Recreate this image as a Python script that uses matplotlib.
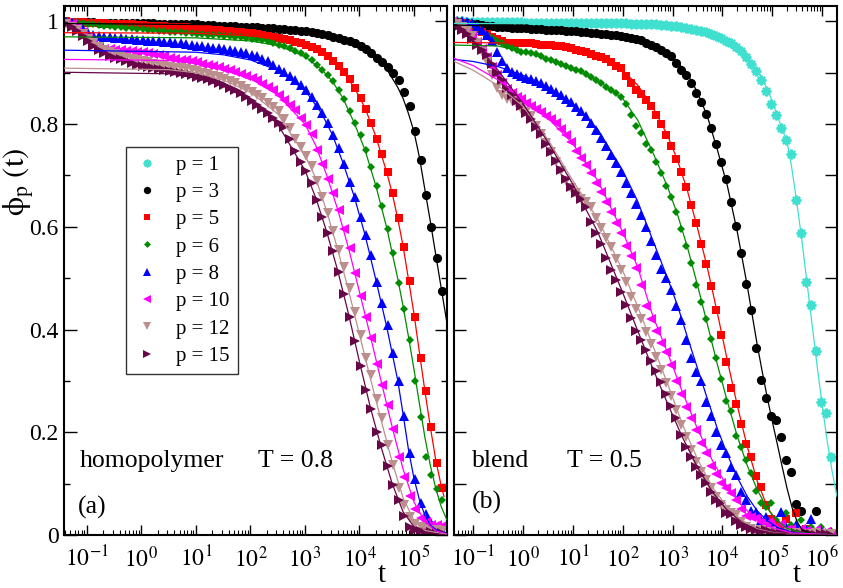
import numpy as np
import matplotlib
matplotlib.use("Agg")
import matplotlib.pyplot as plt
from matplotlib.lines import Line2D
from matplotlib.ticker import FixedLocator, LogLocator, NullFormatter, MultipleLocator

plt.rcParams["font.family"] = ["Liberation Serif", "DejaVu Serif"]
plt.rcParams["mathtext.fontset"] = "stix"

# tempos de amostragem: 10 pontos por decada
t_homo = 10 ** (np.arange(-14, 56) / 10 + 0.02)
t_blend = 10 ** (np.arange(-14, 63) / 10 - 0.03)

# ---------------- homopolimero, T = 0.8 ----------------
homo_p3 = [1.000, 0.999, 0.999, 0.998, 0.998, 0.998, 0.997, 0.997, 0.997, 0.997,
           0.997, 0.997, 0.996, 0.996, 0.996, 0.996, 0.996, 0.995, 0.995, 0.995,
           0.995, 0.995, 0.994, 0.994, 0.994, 0.993, 0.993, 0.993, 0.992, 0.992,
           0.991, 0.991, 0.990, 0.990, 0.989, 0.989, 0.988, 0.988, 0.987, 0.986,
           0.985, 0.984, 0.983, 0.982, 0.981, 0.979, 0.977, 0.975, 0.973, 0.970,
           0.967, 0.964, 0.961, 0.957, 0.953, 0.946, 0.938, 0.929, 0.921, 0.912,
           0.900, 0.885, 0.862, 0.835, 0.787, 0.730, 0.662, 0.600, 0.540, 0.476]
homo_p5 = [1.000, 0.999, 0.998, 0.998, 0.997, 0.997, 0.996, 0.996, 0.995, 0.995,
           0.995, 0.994, 0.994, 0.993, 0.993, 0.992, 0.992, 0.991, 0.991, 0.990,
           0.990, 0.989, 0.989, 0.988, 0.987, 0.986, 0.985, 0.984, 0.983, 0.982,
           0.981, 0.980, 0.979, 0.978, 0.977, 0.976, 0.974, 0.972, 0.970, 0.968,
           0.966, 0.963, 0.960, 0.957, 0.954, 0.950, 0.946, 0.940, 0.932, 0.923,
           0.913, 0.901, 0.887, 0.870, 0.850, 0.830, 0.803, 0.771, 0.741, 0.706,
           0.665, 0.617, 0.560, 0.495, 0.425, 0.345, 0.280, 0.210, 0.140, 0.092]
homo_p6 = [1.000, 0.999, 0.998, 0.997, 0.995, 0.994, 0.993, 0.992, 0.991, 0.990,
           0.989, 0.988, 0.987, 0.986, 0.985, 0.984, 0.983, 0.982, 0.981, 0.980,
           0.979, 0.979, 0.978, 0.977, 0.976, 0.975, 0.974, 0.974, 0.973, 0.972,
           0.971, 0.970, 0.969, 0.968, 0.966, 0.965, 0.963, 0.961, 0.958, 0.955,
           0.952, 0.948, 0.943, 0.938, 0.932, 0.925, 0.916, 0.906, 0.896, 0.883,
           0.866, 0.849, 0.826, 0.802, 0.778, 0.749, 0.717, 0.679, 0.640, 0.596,
           0.550, 0.490, 0.440, 0.380, 0.300, 0.230, 0.152, 0.117, 0.090, 0.068]
homo_p8 = [0.999, 0.997, 0.992, 0.985, 0.978, 0.974, 0.971, 0.970, 0.969, 0.968,
           0.967, 0.966, 0.965, 0.964, 0.963, 0.962, 0.962, 0.961, 0.960, 0.959,
           0.958, 0.957, 0.956, 0.955, 0.953, 0.952, 0.951, 0.949, 0.948, 0.946,
           0.944, 0.942, 0.940, 0.938, 0.935, 0.932, 0.927, 0.922, 0.915, 0.908,
           0.902, 0.894, 0.886, 0.877, 0.867, 0.853, 0.838, 0.822, 0.803, 0.779,
           0.753, 0.722, 0.688, 0.658, 0.620, 0.585, 0.545, 0.492, 0.452, 0.408,
           0.355, 0.300, 0.232, 0.160, 0.110, 0.062, 0.040, 0.023, 0.012, 0.010]
homo_p10 = [0.997, 0.995, 0.990, 0.980, 0.968, 0.958, 0.950, 0.947, 0.946, 0.945,
            0.944, 0.943, 0.942, 0.941, 0.940, 0.938, 0.936, 0.934, 0.932, 0.929,
            0.927, 0.925, 0.924, 0.922, 0.920, 0.918, 0.916, 0.913, 0.911, 0.908,
            0.905, 0.902, 0.898, 0.894, 0.890, 0.885, 0.879, 0.872, 0.866, 0.857,
            0.847, 0.838, 0.827, 0.812, 0.798, 0.780, 0.750, 0.722, 0.694, 0.666,
            0.632, 0.596, 0.558, 0.510, 0.465, 0.424, 0.384, 0.332, 0.292, 0.254,
            0.207, 0.152, 0.113, 0.076, 0.050, 0.034, 0.025, 0.020, 0.019, 0.018]
homo_p12 = [0.995, 0.990, 0.983, 0.975, 0.965, 0.957, 0.950, 0.944, 0.940, 0.936,
            0.932, 0.929, 0.926, 0.924, 0.922, 0.920, 0.918, 0.916, 0.914, 0.912,
            0.910, 0.909, 0.907, 0.905, 0.903, 0.900, 0.897, 0.894, 0.891, 0.888,
            0.884, 0.880, 0.874, 0.868, 0.862, 0.856, 0.850, 0.842, 0.834, 0.825,
            0.810, 0.792, 0.772, 0.755, 0.737, 0.718, 0.690, 0.659, 0.627, 0.591,
            0.555, 0.521, 0.481, 0.435, 0.390, 0.345, 0.312, 0.264, 0.227, 0.175,
            0.136, 0.092, 0.058, 0.035, 0.022, 0.015, 0.012, 0.010, 0.009, 0.008]
homo_p15 = [0.995, 0.990, 0.982, 0.972, 0.962, 0.953, 0.944, 0.938, 0.933, 0.929,
            0.926, 0.922, 0.919, 0.916, 0.913, 0.911, 0.909, 0.907, 0.905, 0.903,
            0.901, 0.899, 0.897, 0.895, 0.892, 0.890, 0.887, 0.884, 0.880, 0.876,
            0.871, 0.866, 0.860, 0.853, 0.846, 0.838, 0.830, 0.821, 0.811, 0.802,
            0.794, 0.771, 0.748, 0.727, 0.708, 0.685, 0.653, 0.620, 0.588, 0.553,
            0.512, 0.470, 0.425, 0.378, 0.330, 0.283, 0.245, 0.200, 0.175, 0.135,
            0.098, 0.068, 0.037, 0.015, 0.010, 0.008, 0.006, 0.005, 0.005, 0.004]

# ajustes (log10 t, phi)
homo_fit3 = [(-1.42, 0.996), (2.0, 0.993), (3.0, 0.985), (3.5, 0.975), (4.0, 0.952),
             (4.3, 0.930), (4.5, 0.907), (4.7, 0.872), (4.8, 0.850), (4.9, 0.820),
             (5.0, 0.785), (5.1, 0.735), (5.2, 0.672), (5.3, 0.610), (5.4, 0.545),
             (5.5, 0.480), (5.6, 0.415)]
homo_fit5 = [(-1.42, 0.978), (1.0, 0.977), (2.0, 0.972), (2.5, 0.965), (3.0, 0.954),
             (3.3, 0.940), (3.5, 0.924), (3.7, 0.902), (3.9, 0.872), (4.1, 0.832),
             (4.3, 0.776), (4.5, 0.706), (4.6, 0.665), (4.7, 0.617), (4.8, 0.562),
             (4.9, 0.497), (5.0, 0.430), (5.1, 0.355), (5.2, 0.280), (5.3, 0.210),
             (5.4, 0.145), (5.5, 0.095), (5.55, 0.075)]
homo_fit6 = [(-1.42, 0.970), (1.0, 0.968), (2.0, 0.962), (2.5, 0.953), (3.0, 0.932),
             (3.3, 0.907), (3.5, 0.884), (3.7, 0.850), (3.9, 0.803), (4.1, 0.750),
             (4.3, 0.680), (4.5, 0.598), (4.7, 0.500), (4.8, 0.445), (4.9, 0.385),
             (5.0, 0.322), (5.1, 0.255), (5.2, 0.190), (5.3, 0.135), (5.4, 0.090),
             (5.5, 0.055), (5.6, 0.030)]
homo_fit8 = [(-1.42, 0.944), (1.0, 0.940), (1.5, 0.935), (2.0, 0.925), (2.5, 0.905),
             (3.0, 0.866), (3.3, 0.822), (3.5, 0.780), (3.7, 0.724), (3.9, 0.660),
             (4.1, 0.585), (4.3, 0.497), (4.5, 0.405), (4.7, 0.302), (4.8, 0.235),
             (4.9, 0.165), (5.0, 0.110), (5.1, 0.068), (5.2, 0.038), (5.3, 0.019),
             (5.45, 0.007), (5.6, 0.002)]
homo_fit10 = [(-1.42, 0.926), (0.5, 0.924), (1.0, 0.918), (1.5, 0.906), (2.0, 0.889),
              (2.5, 0.857), (3.0, 0.800), (3.2, 0.758), (3.4, 0.700), (3.6, 0.634),
              (3.8, 0.558), (4.0, 0.473), (4.2, 0.387), (4.4, 0.298), (4.6, 0.210),
              (4.8, 0.128), (5.0, 0.064), (5.2, 0.026), (5.4, 0.008), (5.6, 0.002)]
homo_fit12 = [(-1.42, 0.909), (0.5, 0.906), (1.0, 0.900), (1.5, 0.886), (2.0, 0.862),
              (2.5, 0.820), (3.0, 0.740), (3.2, 0.694), (3.4, 0.630), (3.6, 0.556),
              (3.8, 0.476), (4.0, 0.390), (4.2, 0.305), (4.4, 0.222), (4.6, 0.142),
              (4.8, 0.072), (5.0, 0.028), (5.2, 0.009), (5.6, 0.001)]
homo_fit15 = [(-1.42, 0.901), (0.5, 0.898), (1.0, 0.890), (1.5, 0.874), (2.0, 0.846),
              (2.5, 0.800), (3.0, 0.710), (3.2, 0.656), (3.4, 0.590), (3.6, 0.515),
              (3.8, 0.430), (4.0, 0.337), (4.2, 0.248), (4.4, 0.170), (4.6, 0.100),
              (4.8, 0.045), (5.0, 0.016), (5.2, 0.005), (5.6, 0.000)]

# ---------------- blenda, T = 0.5 ----------------
blend_p1 = [1.000, 1.000, 1.000, 0.999, 0.999, 0.999, 0.999, 0.999, 0.998, 0.998,
            0.998, 0.998, 0.998, 0.998, 0.998, 0.997, 0.997, 0.997, 0.997, 0.997,
            0.997, 0.997, 0.997, 0.997, 0.997, 0.996, 0.996, 0.996, 0.996, 0.996,
            0.996, 0.996, 0.996, 0.996, 0.996, 0.996, 0.995, 0.995, 0.995, 0.995,
            0.994, 0.994, 0.993, 0.993, 0.992, 0.991, 0.990, 0.988, 0.986, 0.984,
            0.982, 0.979, 0.976, 0.972, 0.967, 0.962, 0.957, 0.950, 0.942, 0.930,
            0.917, 0.903, 0.885, 0.864, 0.840, 0.818, 0.793, 0.770, 0.742, 0.652,
            0.588, 0.492, 0.448, 0.358, 0.258, 0.237, 0.151]
blend_p3 = [0.998, 0.998, 0.997, 0.996, 0.995, 0.994, 0.993, 0.992, 0.991, 0.990,
            0.989, 0.989, 0.988, 0.988, 0.987, 0.987, 0.986, 0.985, 0.985, 0.984,
            0.984, 0.983, 0.983, 0.982, 0.981, 0.981, 0.980, 0.979, 0.978, 0.977,
            0.976, 0.975, 0.974, 0.973, 0.972, 0.970, 0.968, 0.966, 0.963, 0.958,
            0.954, 0.950, 0.944, 0.938, 0.932, 0.919, 0.906, 0.896, 0.880, 0.860,
            0.844, 0.820, 0.792, 0.761, 0.727, 0.693, 0.649, 0.602, 0.549, 0.489,
            0.438, 0.364, 0.302, 0.266, 0.232, 0.224, 0.190, 0.146, 0.123, 0.060,
            0.047, 0.012, 0.006, 0.047]
blend_p5 = [1.000, 0.999, 0.997, 0.994, 0.990, 0.985, 0.980, 0.975, 0.970, 0.965,
            0.961, 0.958, 0.957, 0.957, 0.958, 0.958, 0.957, 0.956, 0.955, 0.954,
            0.954, 0.953, 0.952, 0.950, 0.948, 0.945, 0.943, 0.940, 0.936, 0.933,
            0.930, 0.926, 0.920, 0.914, 0.909, 0.893, 0.880, 0.867, 0.858, 0.847,
            0.836, 0.818, 0.800, 0.779, 0.758, 0.732, 0.706, 0.677, 0.643, 0.607,
            0.566, 0.528, 0.485, 0.438, 0.389, 0.336, 0.287, 0.255, 0.216, 0.177,
            0.151, 0.114, 0.094, 0.058, 0.032, 0.020, 0.015, 0.032, 0.010, 0.042,
            0.005, 0.012, 0.003, 0.000, 0.004, 0.002, 0.003]
blend_p6 = [1.000, 1.000, 0.998, 0.996, 0.993, 0.987, 0.980, 0.973, 0.967, 0.962,
            0.957, 0.952, 0.948, 0.944, 0.941, 0.941, 0.939, 0.936, 0.932, 0.927,
            0.924, 0.920, 0.917, 0.913, 0.910, 0.906, 0.903, 0.898, 0.892, 0.886,
            0.880, 0.873, 0.866, 0.860, 0.852, 0.840, 0.818, 0.796, 0.782, 0.761,
            0.750, 0.727, 0.704, 0.680, 0.659, 0.628, 0.595, 0.563, 0.529, 0.487,
            0.454, 0.420, 0.381, 0.344, 0.303, 0.261, 0.242, 0.193, 0.172, 0.146,
            0.121, 0.086, 0.062, 0.055, 0.062, 0.030, 0.018, 0.042, 0.020, 0.016,
            0.029, 0.010, 0.016, 0.005, 0.016, 0.004, 0.008]
blend_p8 = [1.000, 1.000, 1.000, 0.999, 0.997, 0.992, 0.983, 0.974, 0.961, 0.940,
            0.922, 0.909, 0.902, 0.898, 0.894, 0.890, 0.887, 0.884, 0.880, 0.875,
            0.869, 0.862, 0.856, 0.849, 0.843, 0.834, 0.825, 0.815, 0.803, 0.788,
            0.773, 0.757, 0.740, 0.724, 0.707, 0.686, 0.665, 0.645, 0.623, 0.600,
            0.572, 0.545, 0.517, 0.500, 0.478, 0.445, 0.419, 0.380, 0.344, 0.318,
            0.299, 0.258, 0.232, 0.201, 0.175, 0.160, 0.133, 0.117, 0.084, 0.068,
            0.047, 0.044, 0.030, 0.036, 0.020, 0.012, 0.045, 0.015, 0.008, 0.020,
            0.005, 0.010, 0.032, 0.004, 0.010, 0.002, 0.006]
blend_p10 = [0.998, 0.995, 0.990, 0.982, 0.972, 0.960, 0.946, 0.930, 0.912, 0.895,
             0.880, 0.868, 0.860, 0.853, 0.849, 0.842, 0.836, 0.830, 0.823, 0.816,
             0.810, 0.803, 0.790, 0.778, 0.766, 0.748, 0.735, 0.720, 0.704, 0.685,
             0.667, 0.648, 0.628, 0.608, 0.588, 0.563, 0.543, 0.519, 0.487, 0.445,
             0.420, 0.397, 0.373, 0.357, 0.331, 0.299, 0.275, 0.250, 0.228, 0.205,
             0.180, 0.160, 0.135, 0.118, 0.102, 0.092, 0.082, 0.068, 0.050, 0.037,
             0.036, 0.034, 0.025, 0.020, 0.028, 0.015, 0.022, 0.010, 0.012, 0.005,
             0.012, 0.008, 0.004, 0.010, 0.003, 0.006, 0.002]
blend_p12 = [0.998, 0.995, 0.990, 0.982, 0.972, 0.958, 0.940, 0.920, 0.895, 0.870,
             0.856, 0.848, 0.845, 0.838, 0.830, 0.824, 0.815, 0.797, 0.780, 0.763,
             0.745, 0.727, 0.708, 0.690, 0.675, 0.665, 0.655, 0.648, 0.638, 0.617,
             0.597, 0.578, 0.561, 0.537, 0.516, 0.493, 0.464, 0.441, 0.420, 0.396,
             0.372, 0.346, 0.321, 0.295, 0.271, 0.243, 0.214, 0.191, 0.166, 0.143,
             0.123, 0.107, 0.091, 0.074, 0.058, 0.048, 0.042, 0.039, 0.025, 0.016,
             0.012, 0.008, 0.010, 0.005, 0.003, 0.006, 0.002, 0.004, 0.001, 0.003,
             0.000, 0.002, 0.001, 0.003, 0.000, 0.002, 0.001]
blend_p15 = [0.995, 0.990, 0.983, 0.975, 0.965, 0.955, 0.945, 0.935, 0.918, 0.900,
             0.885, 0.870, 0.857, 0.845, 0.835, 0.822, 0.810, 0.795, 0.780, 0.762,
             0.745, 0.728, 0.710, 0.694, 0.678, 0.666, 0.655, 0.638, 0.610, 0.588,
             0.566, 0.540, 0.516, 0.497, 0.474, 0.448, 0.422, 0.398, 0.380, 0.360,
             0.338, 0.320, 0.297, 0.274, 0.251, 0.228, 0.195, 0.172, 0.152, 0.133,
             0.117, 0.101, 0.084, 0.068, 0.062, 0.042, 0.040, 0.028, 0.020, 0.016,
             0.012, 0.010, 0.008, 0.010, 0.005, 0.004, 0.006, 0.003, 0.002, 0.004,
             0.001, 0.003, 0.002, 0.000, 0.002, 0.001, 0.000]

blend_fit1 = [(-1.38, 0.996), (2.5, 0.995), (3.0, 0.992), (3.5, 0.985), (3.8, 0.976),
              (4.0, 0.967), (4.3, 0.948), (4.6, 0.917), (4.8, 0.890), (5.0, 0.845),
              (5.2, 0.790), (5.3, 0.765), (5.4, 0.710), (5.5, 0.643), (5.6, 0.570),
              (5.7, 0.490), (5.8, 0.410), (5.9, 0.330), (6.0, 0.255), (6.1, 0.185),
              (6.2, 0.125), (6.3, 0.075)]
blend_fit3 = [(-1.38, 0.993), (0.0, 0.989), (1.0, 0.983), (2.0, 0.972), (2.5, 0.958),
              (3.0, 0.932), (3.3, 0.898), (3.5, 0.862), (3.7, 0.815), (3.9, 0.750),
              (4.1, 0.680), (4.3, 0.590), (4.5, 0.485), (4.7, 0.370), (4.8, 0.318),
              (4.9, 0.268), (5.0, 0.222), (5.1, 0.178), (5.2, 0.133), (5.3, 0.090),
              (5.4, 0.053), (5.5, 0.026), (5.6, 0.010), (5.8, 0.002), (6.3, 0.000)]
blend_fit5 = [(-1.38, 0.959), (-0.3, 0.958), (0.5, 0.954), (1.0, 0.948), (1.5, 0.933),
              (2.0, 0.905), (2.3, 0.876), (2.6, 0.834), (2.9, 0.778), (3.1, 0.730),
              (3.3, 0.670), (3.5, 0.598), (3.7, 0.520), (3.9, 0.432), (4.1, 0.340),
              (4.3, 0.252), (4.5, 0.172), (4.7, 0.105), (4.9, 0.055), (5.1, 0.022),
              (5.3, 0.006), (5.6, 0.001), (6.3, 0.000)]
blend_fit6 = [(-1.38, 0.954), (-0.5, 0.952), (0.0, 0.942), (0.5, 0.927), (1.0, 0.909),
              (1.5, 0.885), (2.0, 0.850), (2.3, 0.808), (2.6, 0.746), (2.9, 0.678),
              (3.1, 0.624), (3.3, 0.560), (3.5, 0.487), (3.7, 0.410), (3.9, 0.332),
              (4.1, 0.260), (4.3, 0.192), (4.5, 0.135), (4.7, 0.088), (4.9, 0.052),
              (5.1, 0.028), (5.3, 0.013), (5.6, 0.004), (6.3, 0.000)]
blend_fit8 = [(-1.38, 0.926), (-1.0, 0.922), (-0.5, 0.912), (0.0, 0.895), (0.5, 0.872),
              (1.0, 0.840), (1.5, 0.790), (2.0, 0.710), (2.3, 0.650), (2.6, 0.575),
              (2.9, 0.500), (3.1, 0.447), (3.3, 0.385), (3.5, 0.325), (3.7, 0.265),
              (3.9, 0.207), (4.1, 0.157), (4.3, 0.112), (4.5, 0.075), (4.7, 0.047),
              (4.9, 0.028), (5.1, 0.015), (5.4, 0.005), (5.8, 0.001), (6.3, 0.000)]
blend_fit10 = [(-1.38, 0.928), (-1.0, 0.914), (-0.5, 0.886), (0.0, 0.850), (0.5, 0.812),
               (1.0, 0.762), (1.5, 0.690), (2.0, 0.590), (2.3, 0.522), (2.6, 0.428),
               (2.9, 0.355), (3.2, 0.278), (3.5, 0.207), (3.8, 0.145), (4.1, 0.094),
               (4.4, 0.056), (4.7, 0.030), (5.0, 0.014), (5.4, 0.004), (6.3, 0.000)]
blend_fit12 = [(-1.38, 0.922), (-1.0, 0.905), (-0.5, 0.875), (0.0, 0.835), (0.5, 0.770),
               (1.0, 0.690), (1.5, 0.615), (2.0, 0.515), (2.3, 0.445), (2.6, 0.370),
               (2.9, 0.295), (3.2, 0.215), (3.5, 0.148), (3.8, 0.093), (4.1, 0.054),
               (4.4, 0.028), (4.7, 0.012), (5.0, 0.005), (5.5, 0.001), (6.3, 0.000)]
blend_fit15 = [(-1.38, 0.990), (-1.0, 0.962), (-0.5, 0.905), (0.0, 0.840), (0.5, 0.765),
               (1.0, 0.683), (1.5, 0.590), (2.0, 0.472), (2.3, 0.398), (2.6, 0.325),
               (2.9, 0.256), (3.2, 0.190), (3.5, 0.132), (3.8, 0.084), (4.1, 0.048),
               (4.4, 0.024), (4.7, 0.010), (5.0, 0.004), (5.5, 0.001), (6.3, 0.000)]

# estilo de cada p: cor, marcador, tamanho
estilos = {
    1: ("#40e0d0", (8, 2, 0), 7.0),
    3: ("black", "o", 6.6),
    5: ("red", "s", 5.8),
    6: ("#008b00", "D", 4.4),
    8: ("blue", "^", 6.6),
    10: ("magenta", "<", 6.6),
    12: ("#bc8f8f", "v", 6.6),
    15: ("#670748", ">", 6.6),
}

homo = [(3, homo_p3, homo_fit3), (5, homo_p5, homo_fit5), (6, homo_p6, homo_fit6),
        (8, homo_p8, homo_fit8), (10, homo_p10, homo_fit10), (12, homo_p12, homo_fit12),
        (15, homo_p15, homo_fit15)]
blend = [(1, blend_p1, blend_fit1), (3, blend_p3, blend_fit3), (5, blend_p5, blend_fit5),
         (6, blend_p6, blend_fit6), (8, blend_p8, blend_fit8), (10, blend_p10, blend_fit10),
         (12, blend_p12, blend_fit12), (15, blend_p15, blend_fit15)]


def desenha(ax, series, t):
    for p, y, fit in series:
        cor, marc, ms = estilos[p]
        mew = 1.6 if p == 1 else 0.0
        ax.plot(t[:len(y)], y, ls="none", marker=marc, ms=ms, color=cor,
                mec=cor, mew=mew, zorder=2)
        lt, ly = zip(*fit)
        ax.plot(10 ** np.array(lt), ly, color=cor, lw=0.9, zorder=3)


def eixos(ax, xmin, xmax, decadas, rotulos_y):
    ax.set_xscale("log")
    ax.set_xlim(10 ** xmin, 10 ** xmax)
    ax.set_ylim(0, 1.03)
    ax.xaxis.set_major_locator(FixedLocator([10.0 ** d for d in decadas]))
    ax.set_xticklabels([r"$10^{%d}$" % d for d in decadas])
    ax.xaxis.set_minor_locator(LogLocator(base=10, subs=np.arange(2, 10), numticks=20))
    ax.xaxis.set_minor_formatter(NullFormatter())
    ax.tick_params(which="both", direction="in", top=True, right=True, labelsize=17)
    ax.tick_params(axis="x", which="major", length=7.5, width=1.0, pad=8)
    ax.tick_params(axis="x", which="minor", length=3.8, width=0.8)
    if rotulos_y:
        ax.yaxis.set_major_locator(MultipleLocator(0.2))
        ax.yaxis.set_minor_locator(MultipleLocator(0.1))
        ax.set_yticks([0, 0.2, 0.4, 0.6, 0.8, 1.0])
        ax.set_yticklabels(["0", "0.2", "0.4", "0.6", "0.8", "1"])
        ax.tick_params(axis="y", which="major", length=9, width=1.0, pad=4)
        ax.tick_params(axis="y", which="minor", length=4.5, width=1.0)
    else:
        ax.yaxis.set_major_locator(MultipleLocator(0.1))
        ax.yaxis.set_major_formatter(NullFormatter())
        ax.tick_params(axis="y", which="major", length=8.5, width=1.0)
    for s in ax.spines.values():
        s.set_linewidth(1.5)


fig = plt.figure(figsize=(8.43, 5.88), dpi=100)
ax1 = fig.add_axes([64 / 843, 53 / 588, 383 / 843, 529 / 588])
ax2 = fig.add_axes([454 / 843, 53 / 588, 383 / 843, 529 / 588])

desenha(ax1, homo, t_homo)
desenha(ax2, blend, t_blend)
eixos(ax1, -1.42, 5.605, range(-1, 6), True)
eixos(ax2, -1.384, 6.3, range(-1, 7), False)

ax1.set_ylabel(r"$\mathrm{\phi}_\mathrm{p}\ (\mathrm{t})$", fontsize=22)
ax1.yaxis.set_label_coords(-0.072, 0.667)

ax1.text(0.829, -0.076, "t", transform=ax1.transAxes, fontsize=21, ha="center", va="center")
ax2.text(0.895, -0.076, "t", transform=ax2.transAxes, fontsize=21, ha="center", va="center")

ax1.text(0.042, 0.128, "homopolymer", transform=ax1.transAxes, fontsize=18.5, va="baseline")
ax1.text(0.507, 0.128, "T = 0.8", transform=ax1.transAxes, fontsize=18.5, va="baseline")
ax1.text(0.037, 0.041, "(a)", transform=ax1.transAxes, fontsize=18.5, va="baseline")
ax2.text(0.047, 0.128, "blend", transform=ax2.transAxes, fontsize=18.5, va="baseline")
ax2.text(0.294, 0.128, "T = 0.5", transform=ax2.transAxes, fontsize=18.5, va="baseline")
ax2.text(0.046, 0.050, "(b)", transform=ax2.transAxes, fontsize=18.5, va="baseline")

# legenda com todos os p (inclusive p = 1, que so aparece na blenda)
handles = []
for p in [1, 3, 5, 6, 8, 10, 12, 15]:
    cor, marc, ms = estilos[p]
    handles.append(Line2D([], [], ls="none", marker=marc, ms=ms * 0.8, color=cor,
                          mec=cor, mew=1.3 if p == 1 else 0.0, label="p = %d" % p))
leg = ax1.legend(handles=handles, loc="upper left", bbox_to_anchor=(0.162, 0.7335),
                 borderaxespad=0, fontsize=15, frameon=True, fancybox=False,
                 handlelength=1.2, handletextpad=0.8, labelspacing=0.37, borderpad=0.4)
leg.get_frame().set_edgecolor("black")
leg.get_frame().set_linewidth(1.0)

fig.savefig("out.png", dpi=100)
